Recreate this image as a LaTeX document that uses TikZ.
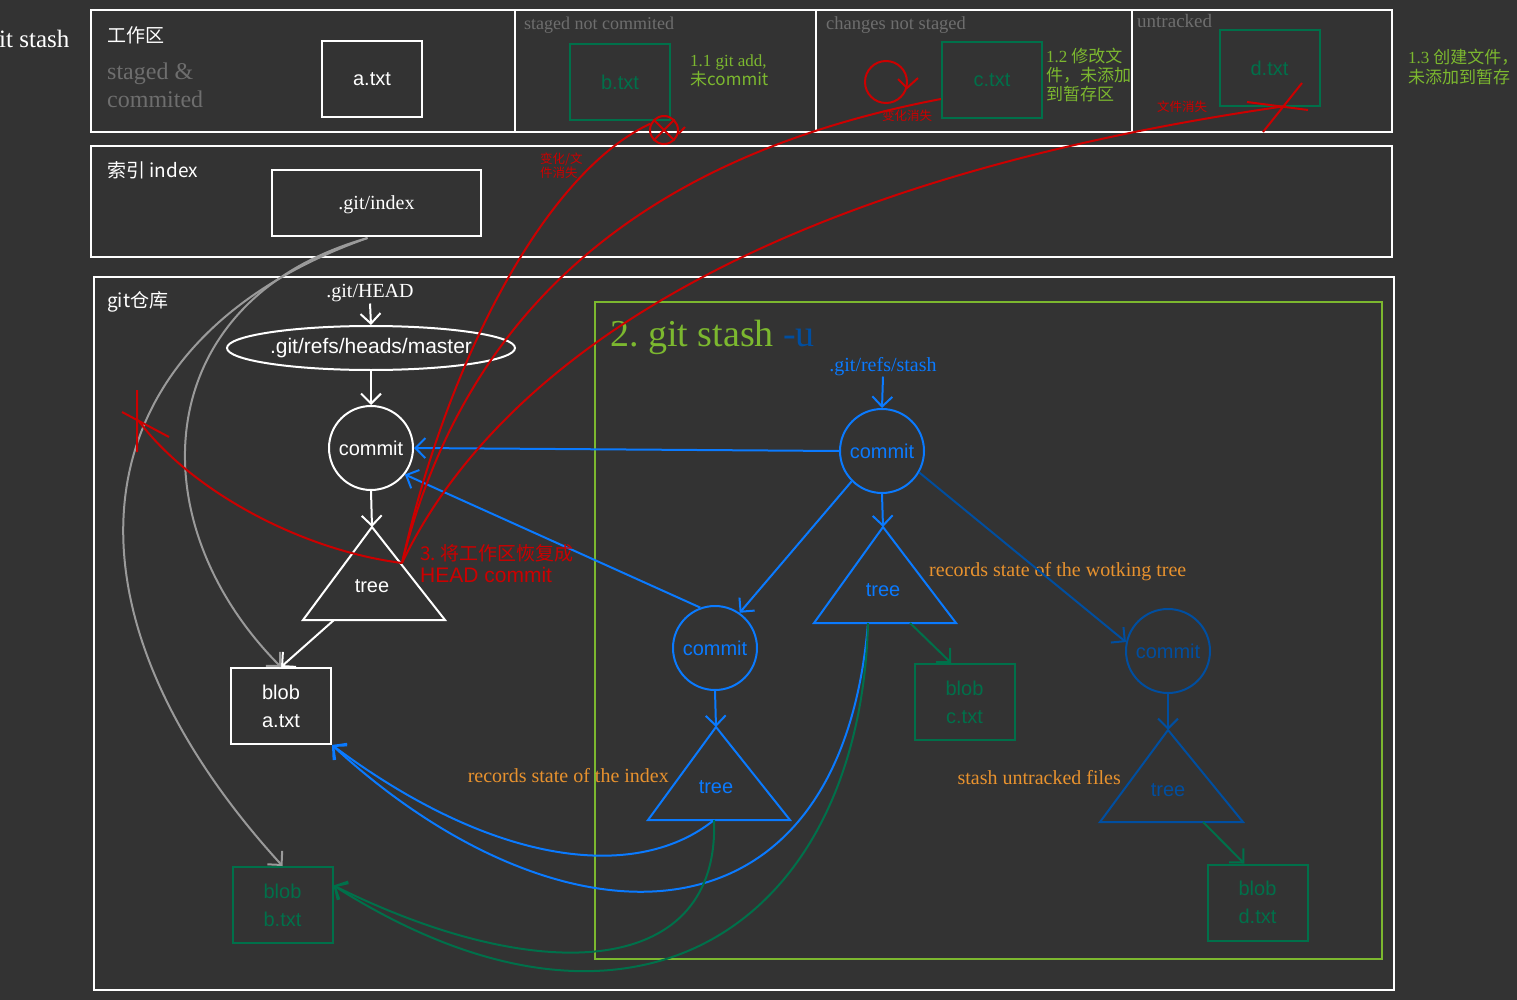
\documentclass[tikz,border=0pt]{standalone}
\usepackage{fontspec}
\setmainfont{Liberation Serif}
\setsansfont{Liberation Sans}
\newfontfamily\cjk{Noto Sans CJK SC}
\usetikzlibrary{arrows.meta,shapes.geometric,calc}
\definecolor{bg}{HTML}{333333}
\definecolor{lgreen}{HTML}{7CB82F}
\definecolor{dgreen}{HTML}{00704A}
\definecolor{bblue}{HTML}{0A7AFF}
\definecolor{dblue}{HTML}{004EA0}
\definecolor{rred}{HTML}{CC0000}
\definecolor{orng}{HTML}{E8922E}
\definecolor{gtext}{HTML}{6E6E6E}
\definecolor{gline}{HTML}{9A9A9A}
\newcommand\fsz[1]{\fontsize{#1}{#1}\selectfont}
\frenchspacing
\begin{document}
\begin{tikzpicture}[x=1pt,y=-1pt,
  frame/.style={draw=white, line width=2pt},
  box/.style={draw=white, line width=2pt, minimum width=100pt, minimum height=76pt, inner sep=0pt,
    font=\sffamily\fontsize{20}{28}\selectfont, text=white, align=center},
  gbox/.style={box, draw=dgreen, text=dgreen},
  cnode/.style={circle, line width=2pt, minimum size=84pt, inner sep=0pt, font=\sffamily\fsz{20}},
  tri/.style={line width=2pt, line join=miter},
  arr/.style={-{Straight Barb[length=10pt,width=20pt]}, line width=2pt},
  lbl/.style={inner sep=0pt, anchor=base west},
  rlbl/.style={inner sep=0pt, anchor=base east},
  treetxt/.style={font=\sffamily\fsz{20}, inner sep=0pt}
]
\fill[bg] (0,0) rectangle (1517,1000);
\useasboundingbox (0,0) rectangle (1517,1000);

% ---- frames
\draw[frame] (91,10) rectangle (1392,132);
\draw[frame] (515,10) -- (515,132);
\draw[frame] (816,10) -- (816,132);
\draw[frame] (1132,10) -- (1132,132);
\draw[frame] (91,146) rectangle (1392,257);
\draw[frame] (94,277) rectangle (1394,990);
\draw[lgreen, line width=2.5pt] (595,302) rectangle (1382,959);

% ---- working area
\node[lbl, text=white, font=\rmfamily\fsz{25}] (title) at (-1,48) {it stash};
\node[lbl, text=white, font=\cjk\fsz{19}] (wa) at (107,43) {工作区};
\node[lbl, text=gtext, font=\rmfamily\fsz{24}] (sc1) at (107,80) {staged \&};
\node[lbl, text=gtext, font=\rmfamily\fsz{24}] (sc2) at (107,108) {commited};
\node[box] (boxA) at (372,79) {a.txt};
\node[lbl, text=gtext, font=\rmfamily\fsz{18}] (snc) at (524,30) {staged not commited};
\node[gbox] (boxB) at (620,82.5) {b.txt};
\node[lbl, text=lgreen, font=\rmfamily\fsz{17}] (n11a) at (690,67) {1.1 git add,};
\node[lbl, text=lgreen, font=\cjk\fsz{17}] (n11b) at (690,86) {未commit};
\node[lbl, text=gtext, font=\rmfamily\fsz{18.5}] (cns) at (826,30) {changes not staged};
\node[gbox] (boxC) at (992,80) {c.txt};
\node[lbl, text=lgreen, font=\cjk\fsz{17}] (n12a) at (1046,63) {{\rmfamily 1.2} 修改文};
\node[lbl, text=lgreen, font=\cjk\fsz{17}] (n12b) at (1046,82) {件，未添加};
\node[lbl, text=lgreen, font=\cjk\fsz{17}] (n12c) at (1046,101) {到暂存区};
\node[lbl, text=gtext, font=\rmfamily\fsz{19}] (untr) at (1137,28) {untracked};
\node[gbox] (boxD) at (1269.5,68) {d.txt};
\node[lbl, text=lgreen, font=\cjk\fsz{17}] (n13a) at (1408,64) {{\rmfamily 1.3} 创建文件，};
\node[lbl, text=lgreen, font=\cjk\fsz{17}] (n13b) at (1408,84) {未添加到暂存};

% ---- index
\node[lbl, text=white, font=\cjk\fsz{19}] (ix) at (107,178) {索引 index};
\node[box, minimum width=209pt, minimum height=66pt, font=\rmfamily\fsz{20}, text depth=0pt] (idx) at (376.5,203) {.git/index};

% ---- repository
\node[lbl, text=white, font=\cjk\fsz{19}] (repo) at (107,307) {git仓库};
\node[anchor=base, inner sep=1pt, text=white, font=\rmfamily\fsz{20}] (head) at (370,298) {.git/HEAD};
\node[ellipse, draw=white, line width=2pt, minimum width=288pt, minimum height=44pt, inner sep=0pt] (master) at (371,348) {};
\node[text=white, font=\sffamily\fsz{21}, inner sep=0pt] (mastertxt) at (master) {.git/refs/heads/master};
\node[cnode, draw=white, text=white] (c1) at (371,448) {commit};
\coordinate (t1a) at (372,527); \coordinate (t1l) at (303,620); \coordinate (t1r) at (445,620);
\coordinate (t1b) at (334,620);
\draw[tri, white] (t1a) -- (t1l) -- (t1r) -- cycle;
\node[treetxt, text=white] (t1) at (372,586) {tree};
\node[box] (blobA) at (281,706) {blob\\a.txt};
\node[gbox] (blobB) at (282.5,905) {blob\\b.txt};

% ---- stash
\node[lbl, font=\rmfamily\fsz{38}] (gs) at (610,346) {\textcolor{lgreen}{2. git stash} \textcolor{dblue}{-u}};
\node[anchor=base, inner sep=1pt, text=bblue, font=\rmfamily\fsz{20}] (stashref) at (883,371) {.git/refs/stash};
\node[cnode, draw=bblue, text=bblue] (c2) at (882,451) {commit};
\node[cnode, draw=bblue, text=bblue] (c3) at (715,648) {commit};
\node[cnode, draw=dblue, text=dblue] (c4) at (1168,651) {commit};
\coordinate (t2a) at (883,527); \coordinate (t2l) at (814,623); \coordinate (t2r) at (956,623);
\coordinate (t2b) at (910,623); \coordinate (t2c) at (868,623);
\draw[tri, bblue] (t2a) -- (t2l) -- (t2r) -- cycle;
\node[treetxt, text=bblue] (t2) at (883,590) {tree};
\coordinate (t3a) at (716,727); \coordinate (t3l) at (648,820); \coordinate (t3r) at (790,820);
\coordinate (t3b) at (714,820);
\draw[tri, bblue] (t3a) -- (t3l) -- (t3r) -- cycle;
\node[treetxt, text=bblue] (t3) at (716,787) {tree};
\coordinate (t4a) at (1168,730); \coordinate (t4l) at (1100,822); \coordinate (t4r) at (1243,822);
\coordinate (t4b) at (1203,822);
\draw[tri, dblue] (t4a) -- (t4l) -- (t4r) -- cycle;
\node[treetxt, text=dblue] (t4) at (1168,790) {tree};
\node[gbox] (blobC) at (964.5,702) {blob\\c.txt};
\node[gbox] (blobD) at (1257.5,902.5) {blob\\d.txt};

\node[lbl, text=orng, font=\rmfamily\fsz{20}] (rwt) at (929,576) {records state of the wotking tree};
\node[rlbl, text=orng, font=\rmfamily\fsz{20}] (rix) at (669,782) {records state of the index};
\node[rlbl, text=orng, font=\rmfamily\fsz{20}] (rut) at (1121,784) {stash untracked files};

% ---- straight arrows
\draw[arr, white] (head.south) -- (master.north);
\draw[arr, white] (master.south) -- (c1.north);
\draw[arr, white] (c1.south) -- (t1a);
\draw[arr, white] (t1b) -- (blobA.north);
\draw[arr, bblue] (stashref.south) -- (c2.north);
\draw[arr, bblue] (c2.west) -- (c1.east);
\draw[arr, bblue] (c3.110) -- (c1.-38);
\draw[arr, bblue] (c2.225) -- (c3.55);
\draw[arr, bblue] (c2.south) -- (t2a);
\draw[arr, dblue] (c2.-30) -- (c4.168);
\draw[arr, bblue] (c3.south) -- (t3a);
\draw[arr, dblue] (c4.south) -- (t4a);
\draw[arr, dgreen] (t2b) -- ($(blobC.north west)!0.37!(blobC.north east)$);
\draw[arr, dgreen] (t4b) -- ($(blobD.north west)!0.37!(blobD.north east)$);

% ---- curves
\draw[arr, gline] ($(idx.south)+(-9,1)$) .. controls (150,300) and (135,520) .. (blobA.north);
\draw[arr, gline] ($(idx.south)+(-9,1)$) .. controls (80,340) and (40,600) .. (blobB.north);
\draw[arr, bblue] (t3b) .. controls (640,880) and (500,870) .. (blobA.south east);
\draw[arr, bblue] (t2c) .. controls (840,960) and (560,955) .. (blobA.south east);
\coordinate (bbin) at ($(blobB.north east)!0.25!(blobB.south east)$);
\draw[arr, dgreen] (t3b) .. controls (720,975) and (545,990) .. (bbin);
\draw[arr, dgreen] (t2c) .. controls (860,920) and (640,1080) .. (bbin);

% ---- red marks
\coordinate (r0) at (402,563);
\coordinate (xl) at (138,420);
\coordinate (xd) at (1286,106);
\node[circle, draw=rred, line width=2pt, minimum size=28pt, inner sep=0pt] (xb) at (664,130) {};
\draw[rred, line width=2pt] (xb.135) -- (xb.-45) (xb.45) -- (xb.-135);
\draw[rred, line width=2pt] (xb.-15) -- (685,127);
\draw[rred, line width=2pt] (r0) .. controls (450,350) and (550,170) .. (xb.155);
\draw[rred, line width=2pt] (r0) .. controls (460,330) and (620,160) .. ($(boxC.south west)+(0,-20)$);
\draw[rred, line width=2pt] (r0) .. controls (480,400) and (700,190) .. (xd);
\draw[rred, line width=2pt] (r0) .. controls (300,550) and (190,490) .. (xl);
\draw[rred, line width=2pt] (137,390) -- (137,452) (122,412) -- (169,437);
\draw[rred, line width=2pt] (1263,132) -- (1302,83) (1247,102) -- (1308,110);
\draw[rred, line width=2pt] (886,82) circle (21);
\draw[rred, line width=2pt] (898,79) -- (907,88) -- (918,78);
\node[lbl, text=rred, font=\cjk\fsz{19}] (s3a) at (420,560) {3. 将工作区恢复成};
\node[lbl, text=rred, font=\sffamily\fsz{21}] (s3b) at (420,582) {HEAD commit};
\node[lbl, text=rred, font=\cjk\fsz{12.5}] (lb1) at (540,164) {变化/文};
\node[lbl, text=rred, font=\cjk\fsz{12.5}] (lb2) at (540,178) {件消失};
\node[lbl, text=rred, font=\cjk\fsz{12.5}] (lc) at (882,121) {变化消失};
\node[lbl, text=rred, font=\cjk\fsz{12.5}] (ld) at (1157,112) {文件消失};
\end{tikzpicture}
\end{document}
